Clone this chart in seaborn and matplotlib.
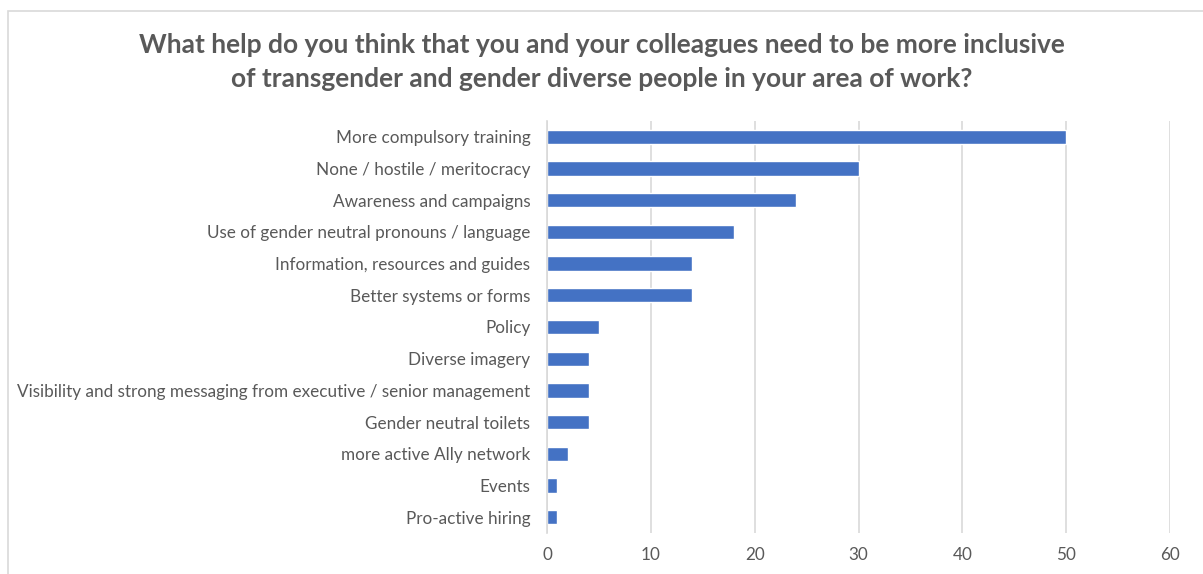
import pandas as pd
import seaborn as sns
import matplotlib.pyplot as plt
from matplotlib.patches import Rectangle

kategorie = [
    "More compulsory training",
    "None / hostile / meritocracy",
    "Awareness and campaigns",
    "Use of gender neutral pronouns / language",
    "Information, resources and guides",
    "Better systems or forms",
    "Policy",
    "Diverse imagery",
    "Visibility and strong messaging from executive / senior management",
    "Gender neutral toilets",
    "more active Ally network",
    "Events",
    "Pro-active hiring",
]
wartosci = [50, 30, 24, 18, 14, 14, 5, 4, 4, 4, 2, 1, 1]
ticki = [0, 10, 20, 30, 40, 50, 60]

dane = pd.DataFrame({"kategoria": kategorie, "liczba": wartosci})

sns.set_style("white")
plt.rcParams['font.family'] = ['Lato', 'DejaVu Sans']

f = plt.figure(figsize=(12.03, 5.74), dpi=100)
ax1 = f.add_axes([547/1203, 1 - 533/574, (1170-547)/1203, (533-121)/574])

sns.barplot(data=dane, x="liczba", y="kategoria", color="#4472C4", width=0.45,
            saturation=1, ax=ax1)

ax1.set_xlim(0, 60)
ax1.set_xticks(ticki)
ax1.grid(axis="x", color="#D9D9D9", linewidth=1.2)
ax1.set_axisbelow(True)
ax1.set(xlabel=None)
ax1.set(ylabel=None)
for s in ["top", "right", "bottom"]:
    ax1.spines[s].set_visible(False)
ax1.spines["left"].set_color("#D9D9D9")
ax1.spines["left"].set_linewidth(1.2)
ax1.tick_params(axis="y", length=0, labelsize=12.3, labelcolor="#595959", pad=12)
ax1.tick_params(axis="x", length=0, labelsize=12.3, labelcolor="#595959", pad=10)

f.text(0.5, 1 - 62/574, "What help do you think that you and your colleagues need to be more inclusive\n"
       "of transgender and gender diverse people in your area of work?",
       ha="center", va="center", fontsize=19, fontweight="bold", color="#595959",
       linespacing=1.5)

f.patches.append(Rectangle((8/1203, -0.1), 1.2, 1 - 11/574 + 0.1, transform=f.transFigure,
                           fill=False, edgecolor="#D9D9D9", linewidth=1.2))

f.savefig("out.png")
